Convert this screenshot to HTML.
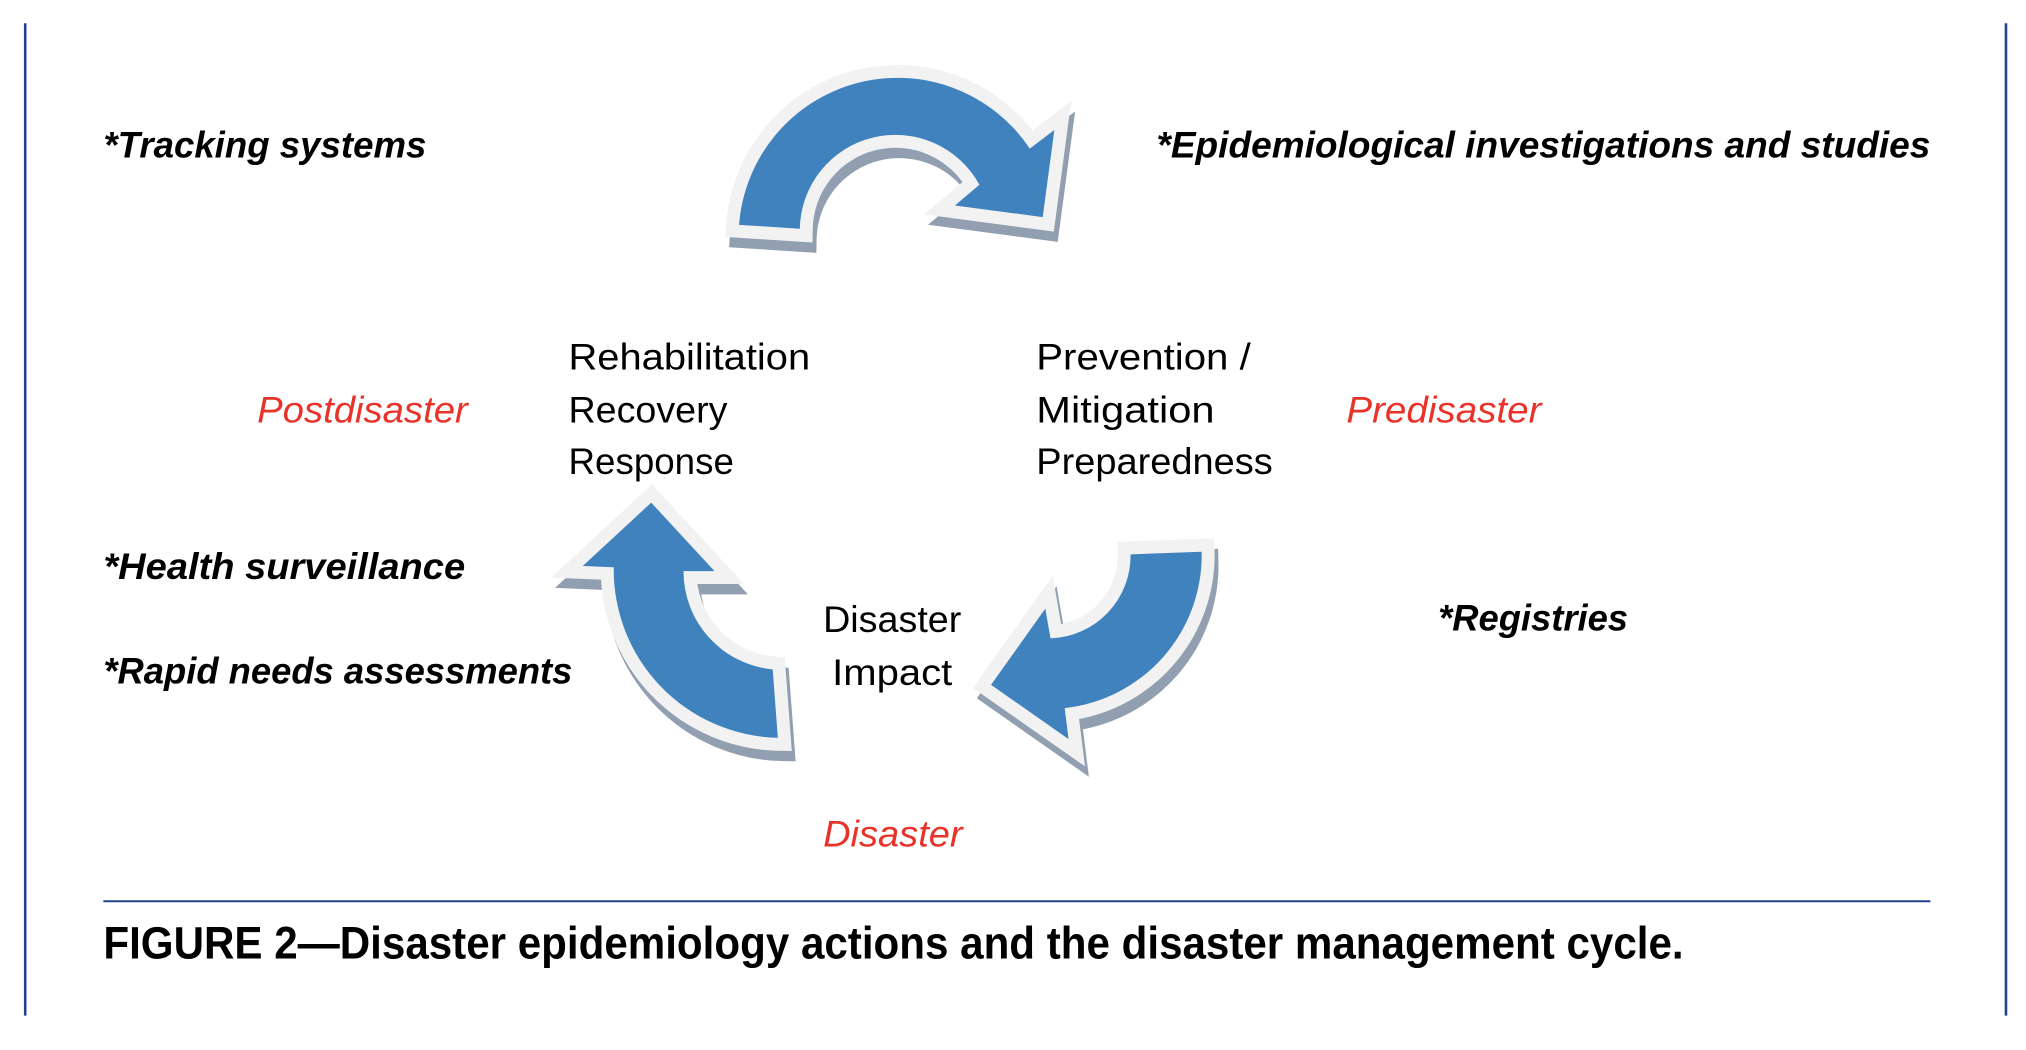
<!DOCTYPE html>
<html><head><meta charset="utf-8"><style>
html,body{margin:0;padding:0;background:#fff;}
svg{display:block;}
text{font-family:"Liberation Sans",sans-serif;}
.b{font-size:29px;fill:#000;}
.bi{font-size:29px;font-style:italic;font-weight:bold;fill:#000;}
.r{font-size:29px;font-style:italic;fill:#e8322a;}
</style></head><body>
<svg width="2026" height="1050" viewBox="0 0 1568 812.6" xmlns="http://www.w3.org/2000/svg">
<line x1="19.5" y1="18" x2="19.5" y2="786" stroke="#23418c" stroke-width="2"/>
<line x1="1552.5" y1="18" x2="1552.5" y2="786" stroke="#23418c" stroke-width="2"/>
<line x1="80" y1="697.5" x2="1494" y2="697.5" stroke="#23418c" stroke-width="1.5"/>

<defs>
<path id="a1" d="M572,174 A123,123 0 0 1 797,115 L816,100.6 L807,168 L739,159 L758,143 A74,74 0 0 0 619,177 Z"/>
<path id="a2" d="M504,389 L553,442 L529,442 A76,76 0 0 0 598,518 L602,571 A130,130 0 0 1 475,439 L451,438 Z"/>
<path id="a3" d="M930,427 A119,119 0 0 1 824,548 L827,572 L767,530 L809,471 L813,494 A64,64 0 0 0 875,429 Z"/>
</defs>
<g>
<use href="#a1" transform="translate(3,8)" fill="#919fb0" stroke="#919fb0" stroke-width="20" stroke-linejoin="miter"/>
<use href="#a1" fill="#3f82bd" stroke="#f2f2f2" stroke-width="20" stroke-linejoin="miter" paint-order="stroke"/>
</g>
<g>
<use href="#a2" transform="translate(3,8)" fill="#919fb0" stroke="#919fb0" stroke-width="20" stroke-linejoin="miter"/>
<use href="#a2" fill="#3f82bd" stroke="#f2f2f2" stroke-width="20" stroke-linejoin="miter" paint-order="stroke"/>
</g>
<g>
<use href="#a3" transform="translate(3,8)" fill="#919fb0" stroke="#919fb0" stroke-width="20" stroke-linejoin="miter"/>
<use href="#a3" fill="#3f82bd" stroke="#f2f2f2" stroke-width="20" stroke-linejoin="miter" paint-order="stroke"/>
</g>

<text class="bi" x="80" y="122" textLength="250" lengthAdjust="spacingAndGlyphs">*Tracking systems</text>
<text class="bi" x="895" y="122" textLength="599" lengthAdjust="spacingAndGlyphs">*Epidemiological investigations and studies</text>
<text class="b" x="440" y="286" textLength="187" lengthAdjust="spacingAndGlyphs">Rehabilitation</text>
<text class="b" x="440" y="327" textLength="123" lengthAdjust="spacingAndGlyphs">Recovery</text>
<text class="b" x="440" y="367" textLength="128" lengthAdjust="spacingAndGlyphs">Response</text>
<text class="b" x="802" y="286" textLength="166" lengthAdjust="spacingAndGlyphs">Prevention /</text>
<text class="b" x="802" y="327" textLength="138" lengthAdjust="spacingAndGlyphs">Mitigation</text>
<text class="b" x="802" y="367" textLength="183" lengthAdjust="spacingAndGlyphs">Preparedness</text>
<text class="r" x="199" y="327" textLength="163" lengthAdjust="spacingAndGlyphs">Postdisaster</text>
<text class="r" x="1042" y="327" textLength="151" lengthAdjust="spacingAndGlyphs">Predisaster</text>
<text class="bi" x="80" y="448" textLength="280" lengthAdjust="spacingAndGlyphs">*Health surveillance</text>
<text class="bi" x="80" y="529" textLength="363" lengthAdjust="spacingAndGlyphs">*Rapid needs assessments</text>
<text class="b" x="637" y="489" textLength="107" lengthAdjust="spacingAndGlyphs">Disaster</text>
<text class="b" x="644" y="530" textLength="93" lengthAdjust="spacingAndGlyphs">Impact</text>
<text class="bi" x="1113" y="488" textLength="147" lengthAdjust="spacingAndGlyphs">*Registries</text>
<text class="r" x="637" y="655" textLength="108" lengthAdjust="spacingAndGlyphs">Disaster</text>
<text x="80" y="742" font-size="35" font-weight="bold" fill="#000" textLength="1223" lengthAdjust="spacingAndGlyphs">FIGURE 2—Disaster epidemiology actions and the disaster management cycle.</text>
</svg>
</body></html>
